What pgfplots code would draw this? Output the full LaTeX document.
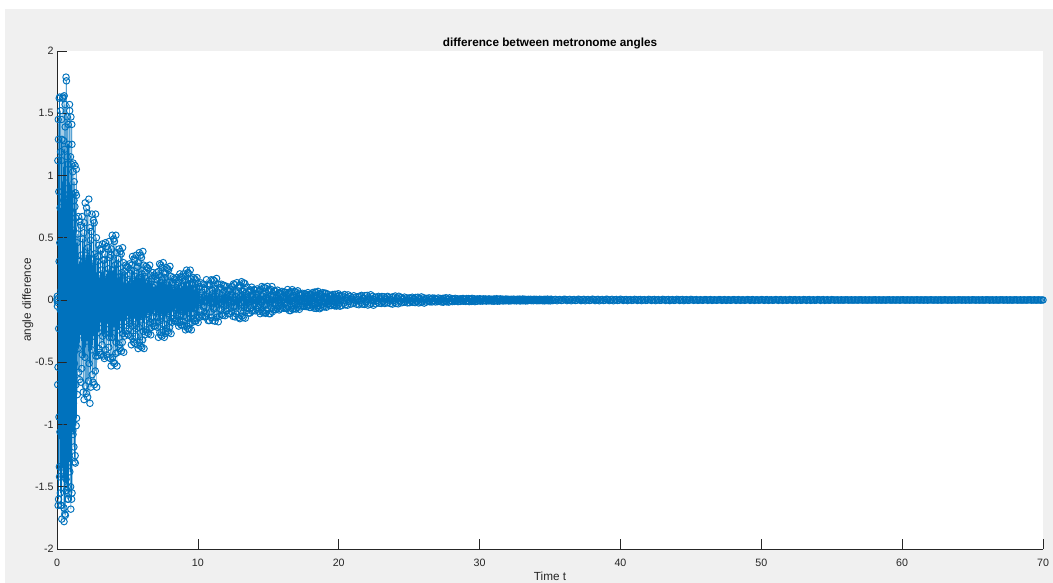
\documentclass[border=0pt]{standalone}
\usepackage{pgfplots}
\pgfplotsset{compat=1.18}
\usepackage{fontspec}
\setmainfont{Liberation Sans}
\definecolor{mblue}{rgb}{0,0.447,0.741}
\definecolor{axgray}{rgb}{0.15,0.15,0.15}
\definecolor{figgray}{rgb}{0.941,0.941,0.941}
\begin{document}
\begin{tikzpicture}[x=1bp,y=1bp]
\useasboundingbox (0,0) rectangle (1053,583);
\fill[white] (0,0) rectangle (1053,583);
\fill[figgray] (5,0) rectangle (1053,574);
\begin{axis}[
  at={(57bp,34bp)}, anchor=south west,
  scale only axis, width=986bp, height=498bp,
  xmin=0, xmax=70, ymin=-2, ymax=2,
  axis x line*=bottom, axis y line*=left,
  axis line style={axgray, line width=0.5bp},
  xtick={0,10,...,70}, ytick={-2,-1.5,-1,-0.5,0,0.5,1,1.5,2},
  tick align=inside, major tick length=10bp,
  tick style={axgray, line width=0.5bp},
  ticklabel style={font=\fontsize{10.7}{12}\selectfont, text=axgray},
  /pgf/number format/assume math mode=true,
  xticklabel style={anchor=base, yshift=-18bp},
  axis background/.style={fill=white},
  axis on top,
  title={difference between metronome angles},
  title style={font=\fontsize{11.8}{13}\selectfont\bfseries, text=black, at={(0.5,1)}, anchor=base, yshift=-1bp},
  xlabel={Time t}, ylabel={angle difference},
  label style={font=\fontsize{11.8}{13}\selectfont, text=axgray},
  xlabel style={at={(0.5,0)}, anchor=base, yshift=-32bp},
  ylabel style={at={(-0.0264,0.5)}, anchor=base},
]
\addplot[mblue, line width=0.4bp, mark=o, mark size=3.25bp, mark options={line width=0.95bp}] coordinates {
(0,0)(0.01,0.01)(0.02,0.03)(0.03,-0.05)(0.04,-0.02)(0.05,-0.68)(0.06,1.12)(0.07,-0.54)(0.08,-1.65)(0.09,1.45)(0.1,1.29)(0.11,-1.6)(0.12,-0.23)(0.13,0.87)(0.14,-0.94)(0.15,0.31)(0.16,1.62)(0.17,-1.34)(0.18,-1.42)(0.19,1.63)(0.2,0.46)(0.21,-1.06)(0.22,0.74)(0.23,-0.08)(0.24,-1.55)(0.25,1.19)(0.26,1.52)(0.27,-1.65)(0.28,-0.68)(0.29,0.08)(0.3,-0.54)(0.31,1.12)(0.32,1.45)(0.33,-1.65)(0.34,-1.76)(0.35,1.29)(0.36,0.87)(0.37,-0.23)(0.38,0.31)(0.39,-0.94)(0.4,-1.34)(0.41,1.62)(0.42,1.63)(0.43,-1.42)(0.44,-1.06)(0.45,0.46)(0.46,-0.09)(0.47,0.8)(0.48,1.28)(0.49,-1.67)(0.5,-1.78)(0.51,1.64)(0.52,0.09)(0.53,-0.73)(0.54,1.21)(0.55,-0.59)(0.56,-1.72)(0.57,1.57)(0.58,1.39)(0.59,-1.73)(0.6,-0.25)(0.61,0.94)(0.62,-1.01)(0.63,0.34)(0.64,1.79)(0.65,-1.44)(0.66,-1.53)(0.67,1.76)(0.68,0.5)(0.69,-1.14)(0.7,0.8)(0.71,-0.09)(0.72,-1.5)(0.73,1.15)(0.74,1.47)(0.75,-1.6)(0.76,-0.66)(0.77,0.08)(0.78,-0.53)(0.79,1.09)(0.8,1.41)(0.81,-1.6)(0.82,-1.55)(0.83,1.25)(0.84,0.85)(0.85,-0.22)(0.86,0.3)(0.87,-0.91)(0.88,-1.3)(0.89,1.57)(0.9,1.52)(0.91,-1.38)(0.92,-1.02)(0.93,0.45)(0.94,-0.08)(0.95,0.72)(0.96,1.15)(0.97,-1.5)(0.98,-1.68)(0.99,1.47)(1,0.08)(1.01,-0.66)(1.02,1.09)(1.03,-0.53)(1.04,-1.6)(1.05,1.41)(1.06,1.25)(1.07,-1.55)(1.08,-0.22)(1.09,0.85)(1.1,-0.71)(1.11,0.23)(1.12,1.03)(1.13,-1.05)(1.14,-1.08)(1.15,1.1)(1.16,0.35)(1.17,-0.83)(1.18,0.56)(1.19,-0.06)(1.2,-1.18)(1.21,0.8)(1.22,0.95)(1.23,-1.3)(1.24,-0.51)(1.25,0.06)(1.26,-0.41)(1.27,0.75)(1.28,1.08)(1.29,-1.25)(1.3,-1.31)(1.31,0.86)(1.32,0.66)(1.33,-0.17)(1.34,0.24)(1.35,-0.68)(1.36,-1.01)(1.37,1.05)(1.38,0.84)(1.39,-0.95)
(1.4,0.03)(1.42,0.46)(1.44,-0.76)(1.46,0.53)(1.48,-0.1)(1.5,-0.39)(1.52,0.67)(1.54,-0.58)(1.56,0.19)(1.58,0.31)(1.6,-0.64)(1.62,0.63)(1.64,-0.28)(1.66,-0.22)(1.68,0.6)(1.7,-0.66)(1.72,0.36)(1.74,0.13)(1.76,-0.55)(1.78,0.67)(1.8,-0.44)(1.82,-0.03)(1.84,0.49)(1.86,-0.74)
(1.88,0.04)(1.9,0.54)(1.92,-0.8)(1.94,0.62)(1.96,-0.11)(1.98,-0.46)(2,0.78)(2.02,-0.69)(2.04,0.22)(2.06,0.36)(2.08,-0.75)(2.1,0.74)(2.12,-0.33)(2.14,-0.26)(2.16,0.7)(2.18,-0.78)(2.2,0.42)(2.22,0.15)(2.24,-0.65)(2.26,0.81)(2.28,-0.51)(2.3,-0.04)(2.32,0.58)(2.34,-0.83)
(2.36,0.04)(2.38,0.48)(2.4,-0.7)(2.42,0.55)(2.44,-0.1)(2.46,-0.4)(2.48,0.69)(2.5,-0.6)(2.52,0.2)(2.54,0.32)(2.56,-0.66)(2.58,0.64)(2.6,-0.29)(2.62,-0.23)(2.64,0.62)(2.66,-0.68)(2.68,0.37)(2.7,0.13)(2.72,-0.57)(2.74,0.69)(2.76,-0.45)(2.78,-0.04)(2.8,0.5)(2.82,-0.7)
(2.84,0.02)(2.86,0.31)(2.88,-0.45)(2.9,0.35)(2.92,-0.06)(2.94,-0.26)(2.96,0.44)(2.98,-0.39)(3,0.13)(3.02,0.2)(3.04,-0.42)(3.06,0.41)(3.08,-0.18)(3.1,-0.15)(3.12,0.4)(3.14,-0.44)(3.16,0.24)(3.18,0.09)(3.2,-0.36)(3.22,0.45)(3.24,-0.29)(3.26,-0.02)(3.28,0.32)(3.3,-0.45)
(3.32,0.02)(3.34,0.32)(3.36,-0.47)(3.38,0.37)(3.4,-0.07)(3.42,-0.27)(3.44,0.46)(3.46,-0.4)(3.48,0.13)(3.5,0.21)(3.52,-0.44)(3.54,0.43)(3.56,-0.19)(3.58,-0.16)(3.6,0.41)(3.62,-0.46)(3.64,0.25)(3.66,0.09)(3.68,-0.38)(3.7,0.47)(3.72,-0.3)(3.74,-0.02)(3.76,0.34)(3.78,-0.47)
(3.8,0.03)(3.82,0.36)(3.84,-0.53)(3.86,0.41)(3.88,-0.07)(3.9,-0.3)(3.92,0.52)(3.94,-0.46)(3.96,0.15)(3.98,0.24)(4,-0.5)(4.02,0.49)(4.04,-0.22)(4.06,-0.17)(4.08,0.47)(4.1,-0.51)(4.12,0.28)(4.14,0.1)(4.16,-0.43)(4.18,0.52)(4.2,-0.34)(4.22,-0.03)(4.24,0.38)(4.26,-0.53)
(4.28,0.02)(4.3,0.29)(4.32,-0.42)(4.34,0.33)(4.36,-0.06)(4.38,-0.24)(4.4,0.41)(4.42,-0.36)(4.44,0.12)(4.46,0.19)(4.48,-0.39)(4.5,0.39)(4.52,-0.17)(4.54,-0.14)(4.56,0.37)(4.58,-0.41)(4.6,0.22)(4.62,0.08)(4.64,-0.34)(4.66,0.42)(4.68,-0.27)(4.7,-0.02)(4.72,0.3)(4.74,-0.42)
(4.76,0.01)(4.78,0.2)(4.8,-0.29)(4.82,0.23)(4.84,-0.04)(4.86,-0.17)(4.88,0.28)(4.9,-0.25)(4.92,0.08)(4.94,0.13)(4.96,-0.27)(4.98,0.27)(5,-0.12)(5.02,-0.1)(5.04,0.26)(5.06,-0.28)(5.08,0.15)(5.1,0.06)(5.12,-0.23)(5.14,0.29)(5.16,-0.19)(5.18,-0.01)(5.2,0.21)(5.22,-0.29)
(5.24,0.02)(5.26,0.24)(5.28,-0.36)(5.3,0.28)(5.32,-0.05)(5.34,-0.21)(5.36,0.35)(5.38,-0.31)(5.4,0.1)(5.42,0.16)(5.44,-0.34)(5.46,0.33)(5.48,-0.15)(5.5,-0.12)(5.52,0.32)(5.54,-0.35)(5.56,0.19)(5.58,0.07)(5.6,-0.29)(5.62,0.36)(5.64,-0.23)(5.66,-0.02)(5.68,0.26)(5.7,-0.36)
(5.72,0.02)(5.74,0.27)(5.76,-0.39)(5.78,0.3)(5.8,-0.05)(5.82,-0.22)(5.84,0.38)(5.86,-0.34)(5.88,0.11)(5.9,0.18)(5.92,-0.37)(5.94,0.36)(5.96,-0.16)(5.98,-0.13)(6,0.34)(6.02,-0.38)(6.04,0.21)(6.06,0.07)(6.08,-0.32)(6.1,0.39)(6.12,-0.25)(6.14,-0.02)(6.16,0.28)(6.18,-0.39)
(6.2,0.01)(6.22,0.19)(6.24,-0.28)(6.26,0.22)(6.28,-0.04)(6.3,-0.16)(6.32,0.27)(6.34,-0.24)(6.36,0.08)(6.38,0.13)(6.4,-0.26)(6.42,0.26)(6.44,-0.11)(6.46,-0.09)(6.48,0.25)(6.5,-0.27)(6.52,0.15)(6.54,0.05)(6.56,-0.23)(6.58,0.28)(6.6,-0.18)(6.62,-0.01)(6.64,0.2)(6.66,-0.28)
(6.68,0.01)(6.7,0.15)(6.72,-0.22)(6.74,0.17)(6.76,-0.03)(6.78,-0.13)(6.8,0.22)(6.82,-0.19)(6.84,0.06)(6.86,0.1)(6.88,-0.21)(6.9,0.2)(6.92,-0.09)(6.94,-0.07)(6.96,0.19)(6.98,-0.21)(7,0.12)(7.02,0.04)(7.04,-0.18)(7.06,0.22)(7.08,-0.14)(7.1,-0.01)(7.12,0.16)(7.14,-0.22)
(7.16,0.02)(7.18,0.2)(7.2,-0.3)(7.22,0.23)(7.24,-0.04)(7.26,-0.17)(7.28,0.29)(7.3,-0.26)(7.32,0.08)(7.34,0.14)(7.36,-0.28)(7.38,0.28)(7.4,-0.12)(7.42,-0.1)(7.44,0.26)(7.46,-0.29)(7.48,0.16)(7.5,0.06)(7.52,-0.24)(7.54,0.3)(7.56,-0.19)(7.58,-0.02)(7.6,0.22)(7.62,-0.3)
(7.64,0.01)(7.66,0.18)(7.68,-0.27)(7.7,0.21)(7.72,-0.04)(7.74,-0.15)(7.76,0.26)(7.78,-0.23)(7.8,0.08)(7.82,0.12)(7.84,-0.25)(7.86,0.25)(7.88,-0.11)(7.9,-0.09)(7.92,0.24)(7.94,-0.26)(7.96,0.14)(7.98,0.05)(8,-0.22)(8.02,0.27)(8.04,-0.17)(8.06,-0.01)(8.08,0.19)(8.1,-0.27)
(8.12,0.01)(8.14,0.12)(8.16,-0.18)(8.18,0.14)(8.2,-0.03)(8.22,-0.1)(8.24,0.18)(8.26,-0.15)(8.28,0.05)(8.3,0.08)(8.32,-0.17)(8.34,0.17)(8.36,-0.07)(8.38,-0.06)(8.4,0.16)(8.42,-0.17)(8.44,0.1)(8.46,0.03)(8.48,-0.15)(8.5,0.18)(8.52,-0.12)(8.54,-0.01)(8.56,0.13)(8.58,-0.18)
(8.6,0.01)(8.62,0.14)(8.64,-0.21)(8.66,0.16)(8.68,-0.03)(8.7,-0.12)(8.72,0.21)(8.74,-0.18)(8.76,0.06)(8.78,0.09)(8.8,-0.2)(8.82,0.19)(8.84,-0.09)(8.86,-0.07)(8.88,0.18)(8.9,-0.2)(8.92,0.11)(8.94,0.04)(8.96,-0.17)(8.98,0.21)(9,-0.13)(9.02,-0.01)(9.04,0.15)(9.06,-0.21)
(9.08,0.01)(9.1,0.16)(9.12,-0.24)(9.14,0.19)(9.16,-0.03)(9.18,-0.14)(9.2,0.24)(9.22,-0.21)(9.24,0.07)(9.26,0.11)(9.28,-0.23)(9.3,0.22)(9.32,-0.1)(9.34,-0.08)(9.36,0.21)(9.38,-0.23)(9.4,0.13)(9.42,0.05)(9.44,-0.19)(9.46,0.24)(9.48,-0.15)(9.5,-0.01)(9.52,0.17)(9.54,-0.24)
(9.56,0.01)(9.58,0.12)(9.6,-0.18)(9.62,0.14)(9.64,-0.03)(9.66,-0.1)(9.68,0.18)(9.7,-0.15)(9.72,0.05)(9.74,0.08)(9.76,-0.17)(9.78,0.17)(9.8,-0.07)(9.82,-0.06)(9.84,0.16)(9.86,-0.17)(9.88,0.1)(9.9,0.03)(9.92,-0.15)(9.94,0.18)(9.96,-0.12)(9.98,-0.01)(10,0.13)(10.02,-0.18)
(10.04,0.007)(10.07,0.095)(10.1,-0.14)(10.13,0.109)(10.16,-0.02)(10.19,-0.08)(10.22,0.137)(10.25,-0.12)(10.28,0.039)(10.31,0.063)(10.34,-0.132)(10.37,0.129)(10.4,-0.057)(10.43,-0.046)(10.46,0.123)(10.49,-0.136)
(10.52,0.087)(10.55,0.031)(10.58,-0.134)(10.61,0.163)(10.64,-0.106)(10.67,-0.008)(10.7,0.119)(10.73,-0.165)(10.76,0.008)(10.79,0.112)(10.82,-0.165)(10.85,0.129)(10.88,-0.023)(10.91,-0.094)(10.94,0.162)(10.97,-0.142)
(11,0.049)(11.03,0.079)(11.06,-0.165)(11.09,0.161)(11.12,-0.072)(11.15,-0.058)(11.18,0.154)(11.21,-0.17)(11.24,0.093)(11.27,0.033)(11.3,-0.142)(11.33,0.173)(11.36,-0.112)(11.39,-0.009)(11.42,0.126)(11.45,-0.175)
(11.48,0.007)(11.51,0.088)(11.54,-0.13)(11.57,0.101)(11.6,-0.018)(11.63,-0.074)(11.66,0.127)(11.69,-0.112)(11.72,0.036)(11.75,0.059)(11.78,-0.122)(11.81,0.12)(11.84,-0.053)(11.87,-0.043)(11.9,0.114)(11.93,-0.126)
(11.96,0.058)(11.99,0.021)(12.02,-0.089)(12.05,0.109)(12.08,-0.07)(12.11,-0.006)(12.14,0.079)(12.17,-0.11)(12.2,0.006)(12.23,0.075)(12.26,-0.11)(12.29,0.086)(12.32,-0.015)(12.35,-0.063)(12.38,0.108)(12.41,-0.095)
(12.44,0.039)(12.47,0.063)(12.5,-0.132)(12.53,0.129)(12.56,-0.057)(12.59,-0.046)(12.62,0.123)(12.65,-0.136)(12.68,0.074)(12.71,0.027)(12.74,-0.113)(12.77,0.139)(12.8,-0.09)(12.83,-0.007)(12.86,0.101)(12.89,-0.14)
(12.92,0.008)(12.95,0.102)(12.98,-0.15)(13.01,0.117)(13.04,-0.021)(13.07,-0.086)(13.1,0.147)(13.13,-0.129)(13.16,0.042)(13.19,0.068)(13.22,-0.141)(13.25,0.138)(13.28,-0.062)(13.31,-0.05)(13.34,0.132)(13.37,-0.146)
(13.4,0.056)(13.43,0.02)(13.46,-0.085)(13.49,0.104)(13.52,-0.067)(13.55,-0.005)(13.58,0.076)(13.61,-0.105)(13.64,0.005)(13.67,0.071)(13.7,-0.105)(13.73,0.082)(13.76,-0.015)(13.79,-0.06)(13.82,0.103)(13.85,-0.09)
(13.88,0.025)(13.91,0.041)(13.94,-0.085)(13.97,0.083)(14,-0.037)(14.03,-0.03)(14.06,0.079)(14.09,-0.087)(14.12,0.048)(14.15,0.017)(14.18,-0.073)(14.21,0.089)(14.24,-0.058)(14.27,-0.005)(14.3,0.065)(14.33,-0.09)
(14.36,0.006)(14.39,0.075)(14.42,-0.11)(14.45,0.086)(14.48,-0.015)(14.51,-0.063)(14.54,0.108)(14.57,-0.095)(14.6,0.031)(14.63,0.05)(14.66,-0.103)(14.69,0.101)(14.72,-0.045)(14.75,-0.036)(14.78,0.097)(14.81,-0.107)
(14.84,0.058)(14.87,0.021)(14.9,-0.089)(14.93,0.109)(14.96,-0.07)(14.99,-0.006)(15.02,0.079)(15.05,-0.11)(15.08,0.006)(15.11,0.075)(15.14,-0.11)(15.17,0.086)(15.2,-0.015)(15.23,-0.063)(15.26,0.108)(15.29,-0.095)
(15.32,0.022)(15.35,0.036)(15.38,-0.075)(15.41,0.074)(15.44,-0.033)(15.47,-0.026)(15.5,0.07)(15.53,-0.078)(15.56,0.042)(15.59,0.015)(15.62,-0.065)(15.65,0.079)(15.68,-0.051)(15.71,-0.004)(15.74,0.058)(15.77,-0.08)
(15.8,0.004)(15.83,0.048)(15.86,-0.07)(15.89,0.055)(15.92,-0.01)(15.95,-0.04)(15.98,0.069)(16.01,-0.06)(16.04,0.02)(16.07,0.032)(16.1,-0.066)(16.13,0.064)(16.16,-0.029)(16.19,-0.023)(16.22,0.062)(16.25,-0.068)
(16.28,0.045)(16.31,0.016)(16.34,-0.069)(16.37,0.084)(16.4,-0.054)(16.43,-0.004)(16.46,0.061)(16.49,-0.085)(16.52,0.004)(16.55,0.058)(16.58,-0.085)(16.61,0.066)(16.64,-0.012)(16.67,-0.048)(16.7,0.083)(16.73,-0.073)
(16.76,0.021)(16.79,0.034)(16.82,-0.071)(16.85,0.069)(16.88,-0.031)(16.91,-0.025)(16.94,0.066)(16.97,-0.073)(17,0.04)(17.03,0.014)(17.06,-0.061)(17.09,0.074)(17.12,-0.048)(17.15,-0.004)(17.18,0.054)(17.21,-0.075)
(17.24,0.003)(17.27,0.037)(17.3,-0.055)(17.33,0.043)(17.36,-0.008)(17.39,-0.031)(17.42,0.054)(17.45,-0.047)(17.48,0.015)(17.51,0.025)(17.54,-0.052)(17.57,0.051)(17.6,-0.023)(17.63,-0.018)(17.66,0.048)(17.69,-0.053)
(17.72,0.032)(17.75,0.011)(17.78,-0.049)(17.81,0.059)(17.84,-0.038)(17.87,-0.003)(17.9,0.043)(17.93,-0.06)(17.96,0.003)(17.99,0.041)(18.02,-0.06)(18.05,0.047)(18.08,-0.008)(18.11,-0.034)(18.14,0.059)(18.17,-0.052)
(18.2,0.02)(18.23,0.032)(18.26,-0.066)(18.29,0.064)(18.32,-0.029)(18.35,-0.023)(18.38,0.062)(18.41,-0.068)(18.44,0.037)(18.47,0.013)(18.5,-0.057)(18.53,0.069)(18.56,-0.045)(18.59,-0.004)(18.62,0.05)(18.65,-0.07)
(18.68,0.003)(18.71,0.041)(18.74,-0.06)(18.77,0.047)(18.8,-0.008)(18.83,-0.034)(18.86,0.059)(18.89,-0.052)(18.92,0.017)(18.95,0.027)(18.98,-0.056)(19.01,0.055)(19.04,-0.025)(19.07,-0.02)(19.1,0.053)(19.13,-0.058)
(19.16,0.024)(19.19,0.009)(19.22,-0.036)(19.25,0.045)(19.28,-0.029)(19.31,-0.002)(19.34,0.032)(19.37,-0.045)(19.4,0.002)(19.43,0.031)(19.46,-0.045)(19.49,0.035)(19.52,-0.006)(19.55,-0.026)(19.58,0.044)(19.61,-0.039)
(19.64,0.014)(19.67,0.023)(19.7,-0.047)(19.73,0.046)(19.76,-0.021)(19.79,-0.017)(19.82,0.044)(19.85,-0.049)(19.88,0.027)(19.91,0.01)(19.94,-0.041)(19.97,0.05)(20,-0.032)(20.03,-0.003)(20.06,0.036)(20.09,-0.05)
(20.12,0.002)(20.17,0.031)(20.22,-0.045)(20.27,0.035)(20.32,-0.006)(20.37,-0.026)(20.42,0.044)(20.47,-0.039)(20.52,0.013)(20.57,0.02)(20.62,-0.042)(20.67,0.041)
(20.72,-0.014)(20.77,-0.011)(20.82,0.03)(20.87,-0.033)(20.92,0.018)(20.97,0.006)(21.02,-0.028)(21.07,0.034)(21.12,-0.022)(21.17,-0.002)(21.22,0.024)(21.27,-0.034)
(21.32,0.002)(21.37,0.026)(21.42,-0.038)(21.47,0.03)(21.52,-0.005)(21.57,-0.022)(21.62,0.037)(21.67,-0.033)(21.72,0.011)(21.77,0.017)(21.82,-0.036)(21.87,0.035)
(21.92,-0.017)(21.97,-0.014)(22.02,0.037)(22.07,-0.041)(22.12,0.022)(22.17,0.008)(22.22,-0.034)(22.27,0.042)(22.32,-0.027)(22.37,-0.002)(22.42,0.03)(22.47,-0.042)
(22.52,0.002)(22.57,0.02)(22.62,-0.03)(22.67,0.023)(22.72,-0.004)(22.77,-0.017)(22.82,0.029)(22.87,-0.026)(22.92,0.008)(22.97,0.014)(23.02,-0.028)(23.07,0.028)
(23.12,-0.012)(23.17,-0.01)(23.22,0.026)(23.27,-0.028)(23.32,0.015)(23.37,0.006)(23.42,-0.023)(23.47,0.029)(23.52,-0.019)(23.57,-0.001)(23.62,0.021)(23.67,-0.029)
(23.72,0.002)(23.77,0.022)(23.82,-0.033)(23.87,0.026)(23.92,-0.005)(23.97,-0.019)(24.02,0.032)(24.07,-0.028)(24.12,0.009)(24.17,0.015)(24.22,-0.031)(24.27,0.03)
(24.32,-0.009)(24.37,-0.008)(24.42,0.02)(24.47,-0.022)(24.52,0.012)(24.57,0.004)(24.62,-0.019)(24.67,0.023)(24.72,-0.015)(24.77,-0.001)(24.82,0.017)(24.87,-0.023)
(24.92,0.001)(24.97,0.015)(25.02,-0.022)(25.07,0.017)(25.12,-0.003)(25.17,-0.013)(25.22,0.022)(25.27,-0.019)(25.32,0.006)(25.37,0.01)(25.42,-0.021)(25.47,0.02)
(25.52,-0.01)(25.57,-0.008)(25.62,0.022)(25.67,-0.024)(25.72,0.013)(25.77,0.005)(25.82,-0.02)(25.87,0.025)(25.92,-0.016)(25.97,-0.001)(26.02,0.018)(26.07,-0.025)
(26.12,0.001)(26.17,0.012)(26.22,-0.017)(26.27,0.013)(26.32,-0.002)(26.37,-0.01)(26.42,0.017)(26.47,-0.015)(26.52,0.005)(26.57,0.008)(26.62,-0.016)(26.67,0.016)
(26.72,-0.007)(26.77,-0.005)(26.82,0.014)(26.87,-0.016)(26.92,0.008)(26.97,0.003)(27.02,-0.013)(27.07,0.016)(27.12,-0.01)(27.17,-0.001)(27.22,0.012)(27.27,-0.016)
(27.32,0.001)(27.37,0.012)(27.42,-0.018)(27.47,0.014)(27.52,-0.003)(27.57,-0.01)(27.62,0.018)(27.67,-0.015)(27.72,0.005)(27.77,0.008)(27.82,-0.017)(27.87,0.017)
(27.92,-0.005)(27.97,-0.004)(28.02,0.011)(28.07,-0.013)(28.12,0.007)(28.17,0.002)(28.22,-0.011)(28.27,0.013)(28.32,-0.008)(28.37,-0.001)(28.42,0.009)(28.47,-0.013)
(28.52,0.001)(28.57,0.008)(28.62,-0.012)(28.67,0.009)(28.72,-0.002)(28.77,-0.007)(28.82,0.012)(28.87,-0.01)(28.92,0.003)(28.97,0.005)(29.02,-0.011)(29.07,0.011)
(29.12,-0.005)(29.17,-0.004)(29.22,0.011)(29.27,-0.013)(29.32,0.007)(29.37,0.002)(29.42,-0.011)(29.47,0.013)(29.52,-0.008)(29.57,-0.001)(29.62,0.009)(29.67,-0.013)
(29.72,0.001)(29.77,0.007)(29.82,-0.01)(29.87,0.008)(29.92,-0.001)(29.97,-0.006)(30.02,0.01)(30.07,-0.009)(30.12,0.003)(30.17,0.005)(30.22,-0.009)(30.27,0.009)
(30.32,-0.004)(30.37,-0.003)(30.42,0.008)(30.47,-0.009)(30.52,0.005)(30.57,0.002)(30.62,-0.007)(30.67,0.009)(30.72,-0.006)(30.77,0)(30.82,0.006)(30.87,-0.009)
(30.92,0.001)(30.97,0.007)(31.02,-0.01)(31.07,0.008)(31.12,-0.001)(31.17,-0.006)(31.22,0.01)(31.27,-0.009)(31.32,0.003)(31.37,0.005)(31.42,-0.009)(31.47,0.009)
(31.52,-0.003)(31.57,-0.003)(31.62,0.007)(31.67,-0.008)(31.72,0.004)(31.77,0.002)(31.82,-0.006)(31.87,0.008)(31.92,-0.005)(31.97,0)(32.02,0.006)(32.07,-0.008)
(32.12,0)(32.17,0.005)(32.22,-0.007)(32.27,0.005)(32.32,-0.001)(32.37,-0.004)(32.42,0.007)(32.47,-0.006)(32.52,0.002)(32.57,0.003)(32.62,-0.007)(32.67,0.006)
(32.72,-0.003)(32.77,-0.003)(32.82,0.007)(32.87,-0.008)(32.92,0.004)(32.97,0.002)(33.02,-0.006)(33.07,0.008)(33.12,-0.005)(33.17,0)(33.22,0.006)(33.27,-0.008)
(33.32,0)(33.37,0.004)(33.42,-0.006)(33.47,0.005)(33.52,-0.001)(33.57,-0.003)(33.62,0.006)(33.67,-0.005)(33.72,0.002)(33.77,0.003)(33.82,-0.006)(33.87,0.006)
(33.92,-0.002)(33.97,-0.002)(34.02,0.005)(34.07,-0.006)(34.12,0.003)(34.17,0.001)(34.22,-0.005)(34.27,0.006)(34.32,-0.004)(34.37,0)(34.42,0.004)(34.47,-0.006)
(34.52,0)(34.57,0.005)(34.62,-0.007)(34.67,0.005)(34.72,-0.001)(34.77,-0.004)(34.82,0.007)(34.87,-0.006)(34.92,0.002)(34.97,0.003)(35.02,-0.007)(35.07,0.006)
(35.1,0.004)(35.2,-0.005)(35.3,0.002)(35.4,0.005)(35.5,-0.006)(35.6,0.001)(35.7,0.004)(35.8,-0.004)(35.9,-0.002)(36,0.006)
(36.1,0.004)(36.2,-0.005)(36.3,0.002)(36.4,0.005)(36.5,-0.006)(36.6,0.001)(36.7,0.004)(36.8,-0.004)(36.9,-0.002)(37,0.006)
(37.1,0.004)(37.2,-0.005)(37.3,0.002)(37.4,0.005)(37.5,-0.006)(37.6,0.001)(37.7,0.004)(37.8,-0.004)(37.9,-0.002)(38,0.006)
(38.1,0.004)(38.2,-0.005)(38.3,0.002)(38.4,0.005)(38.5,-0.006)(38.6,0.001)(38.7,0.004)(38.8,-0.004)(38.9,-0.002)(39,0.006)
(39.1,0.004)(39.2,-0.005)(39.3,0.002)(39.4,0.005)(39.5,-0.006)(39.6,0.001)(39.7,0.004)(39.8,-0.004)(39.9,-0.002)(40,0.006)
(40.1,0.003)(40.2,-0.004)(40.3,0.002)(40.4,0.004)(40.5,-0.005)(40.6,0.001)(40.7,0.003)(40.8,-0.003)(40.9,-0.002)(41,0.005)
(41.1,0.003)(41.2,-0.004)(41.3,0.002)(41.4,0.004)(41.5,-0.005)(41.6,0.001)(41.7,0.003)(41.8,-0.003)(41.9,-0.002)(42,0.005)
(42.1,0.003)(42.2,-0.004)(42.3,0.002)(42.4,0.004)(42.5,-0.005)(42.6,0.001)(42.7,0.003)(42.8,-0.003)(42.9,-0.002)(43,0.005)
(43.1,0.003)(43.2,-0.004)(43.3,0.002)(43.4,0.004)(43.5,-0.005)(43.6,0.001)(43.7,0.003)(43.8,-0.003)(43.9,-0.002)(44,0.005)
(44.1,0.003)(44.2,-0.004)(44.3,0.002)(44.4,0.004)(44.5,-0.005)(44.6,0.001)(44.7,0.003)(44.8,-0.003)(44.9,-0.002)(45,0.005)
(45.1,0.002)(45.2,-0.003)(45.3,0.001)(45.4,0.003)(45.5,-0.003)(45.6,0)(45.7,0.002)(45.8,-0.002)(45.9,-0.001)(46,0.003)
(46.1,0.002)(46.2,-0.003)(46.3,0.001)(46.4,0.003)(46.5,-0.003)(46.6,0)(46.7,0.002)(46.8,-0.002)(46.9,-0.001)(47,0.003)
(47.1,0.002)(47.2,-0.003)(47.3,0.001)(47.4,0.003)(47.5,-0.003)(47.6,0)(47.7,0.002)(47.8,-0.002)(47.9,-0.001)(48,0.003)
(48.1,0.002)(48.2,-0.003)(48.3,0.001)(48.4,0.003)(48.5,-0.003)(48.6,0)(48.7,0.002)(48.8,-0.002)(48.9,-0.001)(49,0.003)
(49.1,0.002)(49.2,-0.003)(49.3,0.001)(49.4,0.003)(49.5,-0.003)(49.6,0)(49.7,0.002)(49.8,-0.002)(49.9,-0.001)(50,0.003)
(50.1,0.002)(50.2,-0.003)(50.3,0.001)(50.4,0.003)(50.5,-0.003)(50.6,0)(50.7,0.002)(50.8,-0.002)(50.9,-0.001)(51,0.003)
(51.1,0.002)(51.2,-0.003)(51.3,0.001)(51.4,0.003)(51.5,-0.003)(51.6,0)(51.7,0.002)(51.8,-0.002)(51.9,-0.001)(52,0.003)
(52.1,0.002)(52.2,-0.003)(52.3,0.001)(52.4,0.003)(52.5,-0.003)(52.6,0)(52.7,0.002)(52.8,-0.002)(52.9,-0.001)(53,0.003)
(53.1,0.002)(53.2,-0.003)(53.3,0.001)(53.4,0.003)(53.5,-0.003)(53.6,0)(53.7,0.002)(53.8,-0.002)(53.9,-0.001)(54,0.003)
(54.1,0.002)(54.2,-0.003)(54.3,0.001)(54.4,0.003)(54.5,-0.003)(54.6,0)(54.7,0.002)(54.8,-0.002)(54.9,-0.001)(55,0.003)
(55.1,0.001)(55.2,-0.001)(55.3,0)(55.4,0.001)(55.5,-0.001)(55.6,0)(55.7,0.001)(55.8,-0.001)(55.9,0)(56,0.001)
(56.1,0.001)(56.2,-0.001)(56.3,0)(56.4,0.001)(56.5,-0.001)(56.6,0)(56.7,0.001)(56.8,-0.001)(56.9,0)(57,0.001)
(57.1,0.001)(57.2,-0.001)(57.3,0)(57.4,0.001)(57.5,-0.001)(57.6,0)(57.7,0.001)(57.8,-0.001)(57.9,0)(58,0.001)
(58.1,0.001)(58.2,-0.001)(58.3,0)(58.4,0.001)(58.5,-0.001)(58.6,0)(58.7,0.001)(58.8,-0.001)(58.9,0)(59,0.001)
(59.1,0.001)(59.2,-0.001)(59.3,0)(59.4,0.001)(59.5,-0.001)(59.6,0)(59.7,0.001)(59.8,-0.001)(59.9,0)(60,0.001)
(60.1,0.001)(60.2,-0.001)(60.3,0)(60.4,0.001)(60.5,-0.001)(60.6,0)(60.7,0.001)(60.8,-0.001)(60.9,0)(61,0.001)
(61.1,0.001)(61.2,-0.001)(61.3,0)(61.4,0.001)(61.5,-0.001)(61.6,0)(61.7,0.001)(61.8,-0.001)(61.9,0)(62,0.001)
(62.1,0.001)(62.2,-0.001)(62.3,0)(62.4,0.001)(62.5,-0.001)(62.6,0)(62.7,0.001)(62.8,-0.001)(62.9,0)(63,0.001)
(63.1,0.001)(63.2,-0.001)(63.3,0)(63.4,0.001)(63.5,-0.001)(63.6,0)(63.7,0.001)(63.8,-0.001)(63.9,0)(64,0.001)
(64.1,0.001)(64.2,-0.001)(64.3,0)(64.4,0.001)(64.5,-0.001)(64.6,0)(64.7,0.001)(64.8,-0.001)(64.9,0)(65,0.001)
(65.1,0.001)(65.2,-0.001)(65.3,0)(65.4,0.001)(65.5,-0.001)(65.6,0)(65.7,0.001)(65.8,-0.001)(65.9,0)(66,0.001)
(66.1,0.001)(66.2,-0.001)(66.3,0)(66.4,0.001)(66.5,-0.001)(66.6,0)(66.7,0.001)(66.8,-0.001)(66.9,0)(67,0.001)
(67.1,0.001)(67.2,-0.001)(67.3,0)(67.4,0.001)(67.5,-0.001)(67.6,0)(67.7,0.001)(67.8,-0.001)(67.9,0)(68,0.001)
(68.1,0.001)(68.2,-0.001)(68.3,0)(68.4,0.001)(68.5,-0.001)(68.6,0)(68.7,0.001)(68.8,-0.001)(68.9,0)(69,0.001)
(69.1,0.001)(69.2,-0.001)(69.3,0)(69.4,0.001)(69.5,-0.001)(69.6,0)(69.7,0.001)(69.8,-0.001)(69.9,0)(70,0)
};
\end{axis}
\end{tikzpicture}
\end{document}
